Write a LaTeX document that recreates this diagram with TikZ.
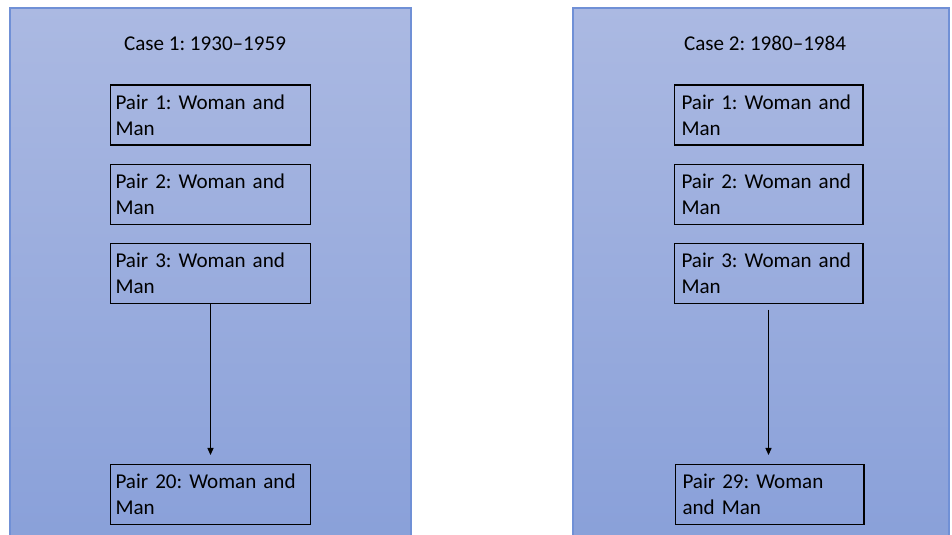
\documentclass[tikz,border=0pt]{standalone}
\usepackage{fontspec}
\setmainfont{Carlito}
\frenchspacing
\definecolor{PanelTop}{HTML}{ABB9E2}
\definecolor{PanelBottom}{HTML}{89A0D9}
\definecolor{PanelEdge}{HTML}{7090D6}
\usetikzlibrary{arrows.meta,positioning}

\begin{document}
\begin{tikzpicture}[x=0.02cm,y=-0.02cm,
    panel/.style={draw=PanelEdge,line width=0.6pt,
                  top color=PanelTop,bottom color=PanelBottom},
    casetitle/.style={font=\fontsize{12}{14.7}\selectfont,anchor=base},
    pairbox/.style={draw,line width=0.6pt,align=left,
                    minimum height=1.2cm,inner ysep=0pt,
                    font=\fontsize{12}{14.7}\selectfont},
    pairA/.style={pairbox,inner xsep=0.1cm,text width=3.8cm},
    pairB/.style={pairbox,inner xsep=0.15cm,text width=3.48cm},
    flow/.style={-{Triangle[length=4pt,width=3.5pt]},line width=0.6pt}]
  \useasboundingbox (0,0) rectangle (952,534);
  \clip (0,0) rectangle (952,534);
  % panels
  \draw[panel] (10,8) rectangle (411,545);
  \draw[panel] (573,8) rectangle (949,545);
  % case 1
  \node[casetitle] (case1) at (205,50) {Case 1: 1930--1959};
  \node[pairA] (p1a) at (210.5,115) {Pair 1: Woman and\\Man};
  \node[pairA,below=0.36cm of p1a] (p2a) {Pair 2: Woman and\\Man};
  \node[pairA,below=0.36cm of p2a] (p3a) {Pair 3: Woman and\\Man};
  \node[pairA] (p20a) at (210.5,494.5) {Pair 20: Woman and\\Man};
  \draw[flow,shorten >=0.18cm] (p3a.south) -- (p20a.north);
  % case 2
  \node[casetitle] (case2) at (765,50) {Case 2: 1980--1984};
  \node[pairB] (p1b) at (768.5,115) {Pair 1: Woman and\\Man};
  \node[pairB,below=0.36cm of p1b] (p2b) {Pair 2: Woman and\\Man};
  \node[pairB,below=0.36cm of p2b] (p3b) {Pair 3: Woman and\\Man};
  \node[pairB] (p29b) at (769.5,494.5) {Pair 29: Woman\\and Man};
  \draw[flow,shorten <=0.12cm,shorten >=0.18cm]
       (p3b.south) -- (p3b.south |- p29b.north);
\end{tikzpicture}
\end{document}
